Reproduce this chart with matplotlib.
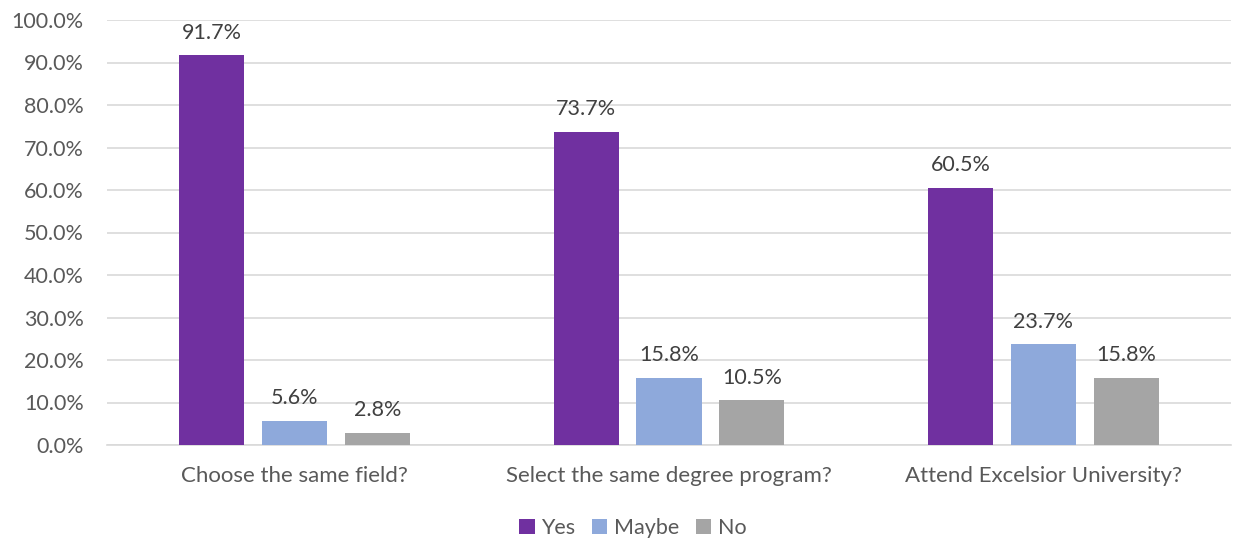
import matplotlib
matplotlib.use("Agg")
import matplotlib.pyplot as plt
import numpy as np
from matplotlib.ticker import FuncFormatter

categories = ["Choose the same field?", "Select the same degree program?", "Attend Excelsior University?"]
series_names = ["Yes", "Maybe", "No"]
yes = [91.7, 73.7, 60.5]
maybe = [5.6, 15.8, 23.7]
no = [2.8, 10.5, 15.8]
colors = ["#7030A0", "#8EA9DB", "#A5A5A5"]

plt.rcParams['font.family'] = ['Lato', 'DejaVu Sans']
txt = "#595959"
fs = 15.5

fig = plt.figure(figsize=(12.33, 5.41), dpi=100)
ax = fig.add_axes([107.25/1233, 96/541, 1123.5/1233, 425/541])

x = np.arange(len(categories))
w = 0.1736
step = 0.2216
for i, (vals, name, c) in enumerate(zip([yes, maybe, no], series_names, colors)):
    pos = x + (i - 1) * step
    bars = ax.bar(pos, vals, width=w, color=c, label=name, zorder=3)
    for b, v in zip(bars, vals):
        ax.text(b.get_x() + b.get_width()/2, v + 3.0, f"{v:.1f}%", ha="center", va="bottom",
                fontsize=fs, color="#404040")

ax.set_xlim(-0.5, 2.5)
ax.set_ylim(0, 100)
ax.set_yticks(np.arange(0, 101, 10))
ax.yaxis.set_major_formatter(FuncFormatter(lambda v, p: f"{v:.1f}%"))
ax.set_xticks(x)
ax.set_xticklabels(categories)
ax.grid(axis="y", color="#D9D9D9", linewidth=1.2, zorder=0)
for s in ["top", "right", "left"]:
    ax.spines[s].set_visible(False)
ax.spines["bottom"].set_color("#D9D9D9")
ax.spines["bottom"].set_linewidth(1.2)
ax.tick_params(axis="both", length=0, labelsize=fs, colors=txt)
ax.tick_params(axis="x", pad=15, labelsize=16)
ax.tick_params(axis="y", pad=17)

leg = fig.legend(loc="center", bbox_to_anchor=(633/1233, 1 - 528/541), ncol=3, frameon=False,
                 fontsize=fs, handlelength=0.7, handleheight=0.7, handletextpad=0.3, columnspacing=0.8)
for t in leg.get_texts():
    t.set_color(txt)

fig.savefig("out.png", dpi=100)
